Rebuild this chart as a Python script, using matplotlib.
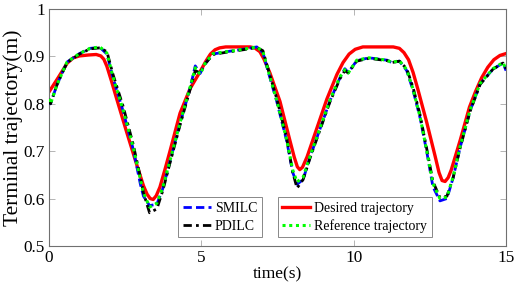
import matplotlib
matplotlib.use("Agg")
import matplotlib.pyplot as plt

# desired trajectory (red)
t_des = [0, 0.3, 0.6, 0.8, 1.0, 1.3, 1.55, 1.7, 1.8, 1.9, 2.05, 2.2, 2.55, 2.9, 3.1,
         3.22, 3.32, 3.42, 3.52, 3.64, 3.8, 3.97, 4.3, 4.63, 4.96, 5.15, 5.3, 5.45,
         5.6, 5.8, 6.6, 6.75, 6.92, 7.05, 7.25, 7.58, 7.9, 8.05, 8.15, 8.23, 8.32,
         8.47, 8.8, 9.12, 9.45, 9.65, 9.85, 10.05, 10.3, 11.3, 11.5, 11.65, 11.8,
         11.95, 12.1, 12.4, 12.67, 12.8, 12.9, 13.0, 13.1, 13.2, 13.5, 13.8, 14.0,
         14.2, 14.4, 14.6, 14.8, 15.0]
desired = [0.825, 0.855, 0.886, 0.897, 0.901, 0.903, 0.904, 0.901, 0.894, 0.879, 0.848,
           0.815, 0.740, 0.667, 0.627, 0.609, 0.600, 0.598, 0.606, 0.624, 0.66, 0.70,
           0.78, 0.832, 0.868, 0.89, 0.905, 0.914, 0.918, 0.920, 0.920, 0.918, 0.910,
           0.895, 0.865, 0.805, 0.724, 0.687, 0.667, 0.661, 0.666, 0.688, 0.75, 0.81,
           0.862, 0.887, 0.905, 0.915, 0.920, 0.920, 0.917, 0.908, 0.893, 0.866, 0.832,
           0.76, 0.69, 0.655, 0.638, 0.636, 0.644, 0.660, 0.724, 0.793, 0.826, 0.855,
           0.877, 0.893, 0.902, 0.906]

# tracking results
t_run = [0, 0.05, 0.26, 0.59, 1.0, 1.35, 1.67, 1.9, 2.1, 2.43, 2.76, 3.0, 3.1, 3.3,
         3.54, 3.74, 3.97, 4.3, 4.63, 4.8, 4.96, 5.12, 5.38, 5.84, 6.37, 6.82, 7.02,
         7.25, 7.47, 7.8, 8.0, 8.14, 8.34, 8.57, 8.9, 9.22, 9.55, 9.71, 9.82, 10.1,
         10.5, 11.1, 11.25, 11.5, 11.74, 11.95, 12.18, 12.4, 12.6, 12.83, 13.06, 13.26,
         13.49, 13.82, 14.15, 14.57, 14.9, 15.0]
reference = [0.81, 0.80, 0.84, 0.888, 0.906, 0.917, 0.920, 0.907, 0.857, 0.787, 0.709,
             0.64, 0.612, 0.582, 0.59, 0.625, 0.68, 0.76, 0.835, 0.876, 0.862, 0.885,
             0.906, 0.910, 0.915, 0.920, 0.910, 0.857, 0.808, 0.724, 0.66, 0.635, 0.645,
             0.69, 0.75, 0.808, 0.857, 0.872, 0.865, 0.892, 0.897, 0.892, 0.887, 0.891,
             0.872, 0.83, 0.772, 0.70, 0.632, 0.600, 0.603, 0.645, 0.709, 0.787, 0.843,
             0.874, 0.887, 0.872]
smilc = [0.81, 0.80, 0.84, 0.888, 0.906, 0.917, 0.919, 0.905, 0.855, 0.785, 0.705,
         0.63, 0.605, 0.585, 0.588, 0.622, 0.678, 0.758, 0.833, 0.880, 0.864, 0.884,
         0.905, 0.910, 0.915, 0.920, 0.908, 0.855, 0.806, 0.722, 0.655, 0.630, 0.640,
         0.688, 0.748, 0.806, 0.855, 0.874, 0.866, 0.891, 0.897, 0.892, 0.887, 0.890,
         0.870, 0.828, 0.770, 0.698, 0.625, 0.595, 0.600, 0.643, 0.707, 0.785, 0.842,
         0.873, 0.886, 0.870]
pdilc = [0.81, 0.80, 0.84, 0.887, 0.905, 0.916, 0.918, 0.910, 0.862, 0.795, 0.715,
         0.645, 0.612, 0.570, 0.578, 0.618, 0.675, 0.755, 0.830, 0.870, 0.865, 0.884,
         0.904, 0.909, 0.914, 0.919, 0.912, 0.86, 0.812, 0.728, 0.655, 0.622, 0.640,
         0.686, 0.746, 0.804, 0.853, 0.870, 0.865, 0.890, 0.896, 0.891, 0.887, 0.890,
         0.874, 0.834, 0.776, 0.704, 0.636, 0.602, 0.605, 0.643, 0.706, 0.784, 0.841,
         0.873, 0.886, 0.874]

x_ticks = [0, 5, 10, 15]
y_ticks = [0.5, 0.6, 0.7, 0.8, 0.9, 1.0]
y_tick_labels = ["0.5", "0.6", "0.7", "0.8", "0.9", "1"]

plt.rcParams['font.family'] = ['Liberation Serif', 'DejaVu Serif']

fig = plt.figure(figsize=(5.17, 2.82), dpi=100)
ax = fig.add_axes([0.0948, 0.128, 0.884, 0.84])

h_des, = ax.plot(t_des, desired, color='#ff0000', lw=2.4, zorder=2)
h_sm, = ax.plot(t_run, smilc, color='#0000ff', lw=2.0, ls=(0, (3, 1.5)), zorder=3)
h_pd, = ax.plot(t_run, pdilc, color='black', lw=2.0, ls=(0, (3, 1.5, 1, 1.5)), zorder=3)
h_ref, = ax.plot(t_run, reference, color='#00ff00', lw=2.2, ls=(0, (1, 1.2)), zorder=4)

ax.set_xlim(0, 15)
ax.set_ylim(0.5, 1.0)
ax.set_xticks(x_ticks)
ax.set_yticks(y_ticks)
ax.set_yticklabels(y_tick_labels)
ax.tick_params(direction='in', length=4, width=0.6, color='#a8a8a8',
               top=True, right=True, labelsize=12.4, pad=3)
for s in ax.spines.values():
    s.set_color('#707070')
    s.set_linewidth(0.8)

ax.set_xlabel('time(s)', fontsize=12.5, labelpad=0)
ax.set_ylabel('Terminal trajectory(m)', fontsize=15.5, labelpad=0)

leg_kw = dict(loc='lower left', borderaxespad=0, fontsize=10, fancybox=False,
              edgecolor='#888888', framealpha=1, handlelength=2.0,
              handletextpad=0.3, labelspacing=0.3, borderpad=0.35)
leg1 = ax.legend([h_sm, h_pd], ['SMILC', 'PDILC'],
                 bbox_to_anchor=(0.282, 0.036), **leg_kw)
leg1.get_frame().set_linewidth(0.7)
ax.add_artist(leg1)
leg2 = ax.legend([h_des, h_ref], ['Desired trajectory', 'Reference trajectory'],
                 bbox_to_anchor=(0.50, 0.036), **leg_kw)
leg2.get_frame().set_linewidth(0.7)

fig.savefig('out.png', dpi=100)
